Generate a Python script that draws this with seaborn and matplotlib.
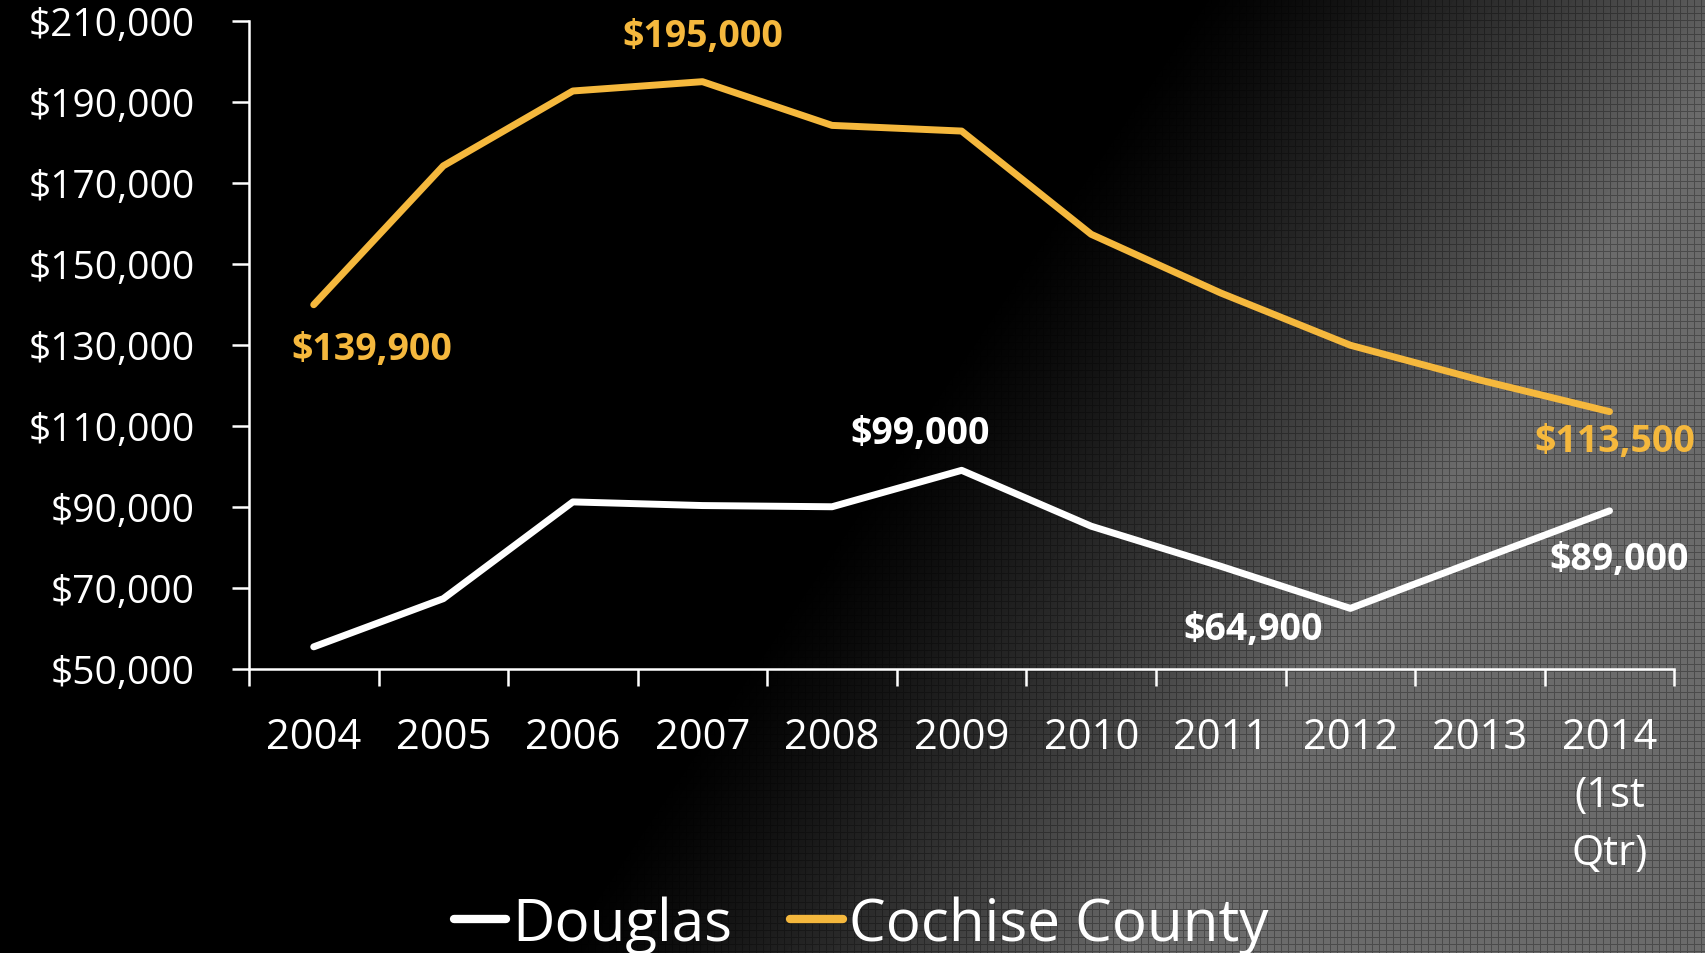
import numpy as np
import pandas as pd
import matplotlib
matplotlib.use("Agg")
import matplotlib.pyplot as plt
from matplotlib.ticker import FixedLocator, FuncFormatter
import seaborn as sns

years = ["2004", "2005", "2006", "2007", "2008", "2009", "2010", "2011", "2012", "2013", "2014\n(1st\nQtr)"]
douglas = [55400, 67300, 91200, 90300, 90000, 99000, 85200, 75300, 64900, 77000, 89000]
cochise = [139900, 174200, 192700, 195000, 184200, 182800, 157300, 142800, 129900, 121300, 113500]

# labelled points: (series, index, text, dx pt, dy pt)
callouts = [
    ("Cochise County", 0, "$139,900", 42, -32),
    ("Cochise County", 3, "$195,000", 0, 33),
    ("Cochise County", 10, "$113,500", 4, -21),
    ("Douglas", 5, "$99,000", -30, 27),
    ("Douglas", 8, "$64,900", -70, -15),
    ("Douglas", 10, "$89,000", 7, -35),
]

ORANGE = "#F5B83D"
WHITE = "#FFFFFF"

df = pd.DataFrame({
    "x": list(range(len(years))) * 2,
    "value": douglas + cochise,
    "series": ["Douglas"] * len(years) + ["Cochise County"] * len(years),
})

sns.set_theme(style="white")
plt.rcParams["font.family"] = ["Open Sans", "DejaVu Sans"]

fig = plt.figure(figsize=(17.05, 9.54), dpi=100)
fig.patch.set_facecolor("black")

# background: black on the left fading to textured gray on the right
bg = fig.add_axes([0, 0, 1, 1], zorder=-5)
H, W = 954, 1705
yy, xx = np.mgrid[0:H, 0:W]
xf = xx / W
yf = yy / H
thr = 0.70 - 0.38 * yf
b = np.clip((xf - thr) / 0.34, 0, 1) ** 1.3 * 0.42
grid = ((xx % 7 == 0) | (yy % 7 == 0))
b = np.where(grid, b * 0.7, b)
bg.imshow(b, cmap="gray", vmin=0, vmax=1, aspect="auto", interpolation="nearest")
bg.axis("off")

ax = fig.add_axes([0.146, 0.298, 0.836, 0.679])
ax.set_facecolor("none")

sns.lineplot(data=df, x="x", y="value", hue="series",
             palette={"Douglas": WHITE, "Cochise County": ORANGE},
             linewidth=5, ax=ax, legend=False, sort=False)

ax.set_xlim(-0.5, len(years) - 0.5)
ax.set_ylim(50000, 210000)
ax.yaxis.set_major_locator(FixedLocator(np.arange(50000, 210001, 20000)))
ax.yaxis.set_major_formatter(FuncFormatter(lambda v, p: f"${v:,.0f}"))

ax.xaxis.set_major_locator(FixedLocator(np.arange(-0.5, len(years), 1.0)))
ax.xaxis.set_major_formatter(FuncFormatter(lambda v, p: ""))
ax.xaxis.set_minor_locator(FixedLocator(np.arange(len(years))))
ax.set_xticklabels(years, minor=True)

ax.tick_params(axis="y", which="major", direction="out", length=12, width=1.8,
               color=WHITE, labelcolor=WHITE, labelsize=28, pad=27, left=True)
ax.tick_params(axis="x", which="major", direction="out", length=12, width=1.8,
               color=WHITE, bottom=True)
ax.tick_params(axis="x", which="minor", length=0, labelcolor=WHITE, labelsize=30, pad=34)
for lab in ax.get_xticklabels(minor=True):
    lab.set_linespacing(1.5)

for side in ["top", "right"]:
    ax.spines[side].set_visible(False)
for side in ["left", "bottom"]:
    ax.spines[side].set_color(WHITE)
    ax.spines[side].set_linewidth(1.8)

ax.set_xlabel("")
ax.set_ylabel("")

series_vals = {"Douglas": douglas, "Cochise County": cochise}
series_col = {"Douglas": WHITE, "Cochise County": ORANGE}
for name, i, txt, dx, dy in callouts:
    ax.annotate(txt, xy=(i, series_vals[name][i]), xytext=(dx, dy),
                textcoords="offset points", ha="center", va="center",
                color=series_col[name], fontsize=27, fontweight="bold")

handles = [plt.Line2D([], [], color=WHITE, lw=6),
           plt.Line2D([], [], color=ORANGE, lw=6)]
leg = fig.legend(handles, ["Douglas", "Cochise County"], loc="center",
                 bbox_to_anchor=(0.505, 0.03), ncol=2, frameon=False,
                 fontsize=42, handlelength=0.9, handletextpad=0.1,
                 columnspacing=1.0)
for t in leg.get_texts():
    t.set_color(WHITE)

fig.savefig("out.png", dpi=100, facecolor=fig.get_facecolor())
